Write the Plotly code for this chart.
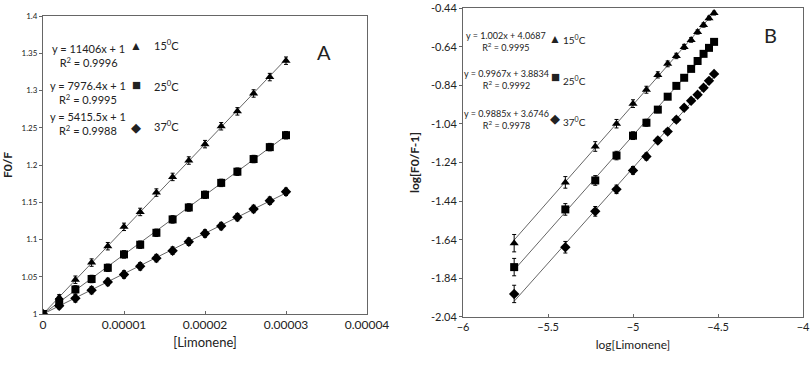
import plotly.graph_objects as go

W, H = 810, 366

# panel A: concentration vs F0/F
conc = [0, 2e-6, 4e-6, 6e-6, 8e-6, 1e-5, 1.2e-5, 1.4e-5, 1.6e-5, 1.8e-5,
        2e-5, 2.2e-5, 2.4e-5, 2.6e-5, 2.8e-5, 3e-5]
f_15 = [1.000, 1.022, 1.046, 1.069, 1.091, 1.117, 1.137, 1.163, 1.184, 1.206,
        1.228, 1.252, 1.272, 1.296, 1.318, 1.340]
f_25 = [1.000, 1.016, 1.033, 1.047, 1.062, 1.080, 1.093, 1.109, 1.127, 1.143,
        1.160, 1.176, 1.191, 1.208, 1.224, 1.240]
f_37 = [1.000, 1.011, 1.021, 1.032, 1.043, 1.053, 1.064, 1.075, 1.085, 1.097,
        1.108, 1.118, 1.130, 1.141, 1.152, 1.164]
f_err = [0, 0.004, 0.005, 0.005, 0.005, 0.005, 0.005, 0.005, 0.005, 0.005,
         0.005, 0.005, 0.005, 0.005, 0.005, 0.005]
a_tickvals = [0, 0.00001, 0.00002, 0.00003, 0.00004]
a_ticktext = ["0", "0.00001", "0.00002", "0.00003", "0.00004"]

# panel B: log[Limonene] vs log[F0/F-1]
logc = [-5.699, -5.398, -5.222, -5.097, -5.0, -4.921, -4.854, -4.796, -4.745,
        -4.699, -4.658, -4.620, -4.585, -4.553, -4.523]
l_15 = [-1.658, -1.343, -1.157, -1.039, -0.935, -0.863, -0.786, -0.729, -0.688,
        -0.641, -0.605, -0.564, -0.528, -0.492, -0.466]
l_25 = [-1.782, -1.483, -1.333, -1.204, -1.101, -1.034, -0.966, -0.899, -0.843,
        -0.801, -0.755, -0.714, -0.677, -0.646, -0.615]
l_37 = [-1.921, -1.679, -1.493, -1.379, -1.281, -1.209, -1.126, -1.080, -1.018,
        -0.956, -0.920, -0.889, -0.853, -0.817, -0.781]
l_err = [0.045, 0.03, 0.025, 0.022, 0.02, 0.018, 0.016, 0.015, 0.014,
         0.013, 0.012, 0.011, 0.011, 0.010, 0.010]
b_yticks = [-2.04, -1.84, -1.64, -1.44, -1.24, -1.04, -0.84, -0.64, -0.44]
b_yticktext = ["-2.04", "-1.84", "-1.64", "-1.44", "-1.24", "-1.04", "-0.84",
               "-0.64", "-0.44"]

# fitted trendlines (from the equations on the chart)
slope_a = [11406, 7976.4, 5415.5]
slope_b = [1.002, 0.9967, 0.9885]
icpt_b = [4.0687, 3.8834, 3.6746]

symbols = ["triangle-up", "square", "diamond"]
sizes = [8, 8, 8]
temps = ["15<sup>0</sup>C", "25<sup>0</sup>C", "37<sup>0</sup>C"]
eq_a = ["y = 11406x + 1<br>R<sup>2</sup> = 0.9996",
        "y = 7976.4x + 1<br>R<sup>2</sup> = 0.9995",
        "y = 5415.5x + 1<br>R<sup>2</sup> = 0.9988"]
eq_b = ["y = 1.002x + 4.0687<br>R<sup>2</sup> = 0.9995",
        "y = 0.9967x + 3.8834<br>R<sup>2</sup> = 0.9992",
        "y = 0.9885x + 3.6746<br>R<sup>2</sup> = 0.9978"]
glyphs = ["▲", "■", "◆"]
glyph_sizes = [12, 15, 13]

FONT = "Lato, Open Sans, sans-serif"
LINE = "#666666"

fig = go.Figure()

for i, ys in enumerate([f_15, f_25, f_37]):
    x0, x1 = conc[0], conc[-1]
    fig.add_trace(go.Scatter(
        x=[x0, x1], y=[1 + slope_a[i] * x0, 1 + slope_a[i] * x1],
        mode="lines", line=dict(color=LINE, width=1),
        xaxis="x", yaxis="y", showlegend=False, hoverinfo="skip"))
    fig.add_trace(go.Scatter(
        x=conc, y=ys, mode="markers",
        marker=dict(symbol=symbols[i], size=sizes[i], color="black"),
        error_y=dict(type="data", array=f_err, color="black", thickness=1, width=2),
        xaxis="x", yaxis="y", showlegend=False))

for i, ys in enumerate([l_15, l_25, l_37]):
    x0, x1 = logc[0], logc[-1]
    fig.add_trace(go.Scatter(
        x=[x0, x1], y=[slope_b[i] * x0 + icpt_b[i], slope_b[i] * x1 + icpt_b[i]],
        mode="lines", line=dict(color=LINE, width=1),
        xaxis="x2", yaxis="y2", showlegend=False, hoverinfo="skip"))
    fig.add_trace(go.Scatter(
        x=logc, y=ys, mode="markers",
        marker=dict(symbol=symbols[i], size=sizes[i], color="black"),
        error_y=dict(type="data", array=l_err, color="black", thickness=1, width=2),
        xaxis="x2", yaxis="y2", showlegend=False))

ax_common = dict(showline=True, linecolor=LINE, linewidth=1, mirror=True,
                 showgrid=False, zeroline=False, automargin=False,
                 ticklabeloverflow="allow")

fig.update_layout(
    width=W, height=H,
    margin=dict(l=0, r=0, t=0, b=0),
    paper_bgcolor="white", plot_bgcolor="white",
    font=dict(family=FONT, color="#222222"),
    xaxis=dict(domain=[43 / W, 367 / W], range=[0, 0.00004],
               tickvals=a_tickvals, ticktext=a_ticktext,
               ticks="inside", ticklen=3, tickcolor=LINE,
               tickfont=dict(size=12), anchor="y",
               title=dict(text="[Limonene]", font=dict(size=13), standoff=6),
               **ax_common),
    yaxis=dict(domain=[1 - 314 / H, 1 - 16 / H], range=[1, 1.4], dtick=0.05,
               ticks="outside", ticklen=3, tickcolor=LINE,
               tickfont=dict(size=8), anchor="x",
               title=dict(text="<b>F0/F</b>", font=dict(size=12), standoff=6),
               **ax_common),
    xaxis2=dict(domain=[463 / W, 803 / W], range=[-6, -4], dtick=0.5,
                ticks="inside", ticklen=3, tickcolor=LINE,
                tickfont=dict(size=11), anchor="y2",
                title=dict(text="log[Limonene]", font=dict(size=12), standoff=8),
                **ax_common),
    yaxis2=dict(domain=[1 - 317 / H, 1 - 8 / H], range=[-2.0405, -0.4395],
                tickvals=b_yticks, ticktext=b_yticktext,
                ticks="outside", ticklen=3, tickcolor=LINE,
                tickfont=dict(size=11), anchor="x2",
                title=dict(text="<b>log[F0/F-1]</b>", font=dict(size=12), standoff=8),
                **ax_common),
)

def ann(text, px, py, size=10):
    fig.add_annotation(text=text, x=px / W, y=1 - py / H, xref="paper", yref="paper",
                       showarrow=False, xanchor="center", yanchor="middle",
                       font=dict(size=size, family=FONT, color="#222222"))

# panel A labels
a_rows = [55, 92, 123]
a_glyph_y = [45, 84, 127]
a_temp_y = [44, 85, 126]
for i in range(3):
    ann(eq_a[i], 88, a_rows[i], size=11)
    ann(glyphs[i], 136, a_glyph_y[i], size=glyph_sizes[i])
    ann(temps[i], 166, a_temp_y[i], size=11)
ann("A", 324, 52, size=20)

# panel B labels
b_rows = [41, 79, 120]
b_glyph_y = [38, 76, 118]
b_temp_y = [39, 80, 122]
for i in range(3):
    ann(eq_b[i], 506, b_rows[i], size=9)
    ann(glyphs[i], 555, b_glyph_y[i], size=glyph_sizes[i])
    ann(temps[i], 574, b_temp_y[i], size=10)
ann("B", 770, 35, size=20)

# the page's default body margin would push the figure 8px in
fig.write_html("out.html", config={"displayModeBar": False},
               post_script="document.body.style.margin = '0px';")
